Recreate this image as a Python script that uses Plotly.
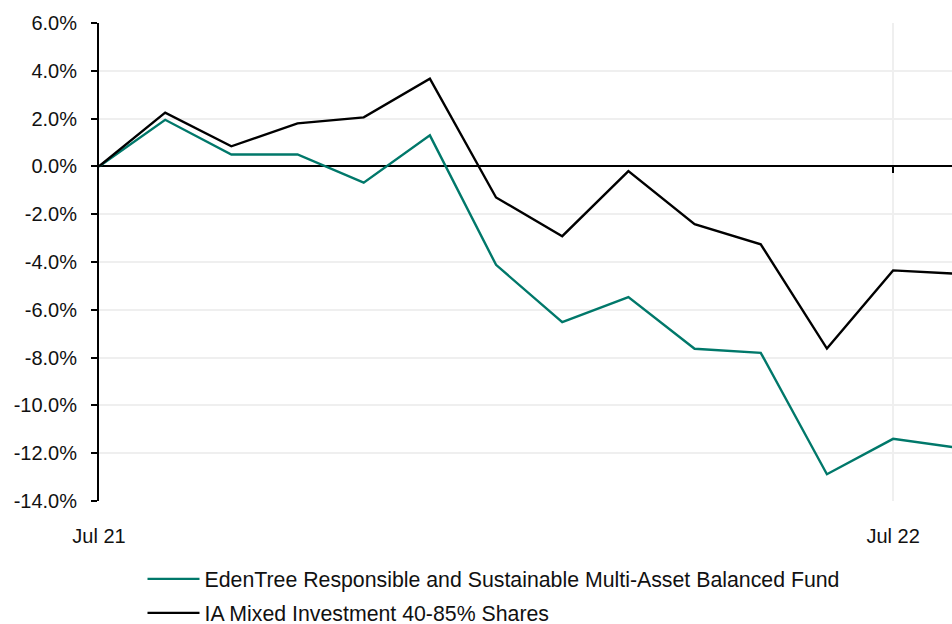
import plotly.graph_objects as go

months = ["Jul 21", "Aug 21", "Sep 21", "Oct 21", "Nov 21", "Dec 21", "Jan 22",
          "Feb 22", "Mar 22", "Apr 22", "May 22", "Jun 22", "Jul 22", "Aug 22"]
fund = [0.0, 1.95, 0.5, 0.5, -0.68, 1.3, -4.12, -6.52, -5.47, -7.63, -7.8, -12.88, -11.4, -11.78]
sector = [0.0, 2.25, 0.84, 1.8, 2.05, 3.67, -1.3, -2.92, -0.2, -2.42, -3.26, -7.62, -4.35, -4.5]
fund_name = "EdenTree Responsible and Sustainable Multi-Asset Balanced Fund"
sector_name = "IA Mixed Investment 40-85% Shares"
tick_idx = [0, 12]
tick_text = ["Jul 21", "Jul 22"]
y_ticks = [-14, -12, -10, -8, -6, -4, -2, 0, 2, 4, 6]

x = list(range(len(months)))
font = "Liberation Sans, Arial, sans-serif"
x_range = [0, 12.89]

fig = go.Figure()
fig.add_trace(go.Scatter(x=x, y=fund, mode="lines", name=fund_name,
                         line=dict(color="#00786A", width=2.4), legend="legend"))
fig.add_trace(go.Scatter(x=x, y=sector, mode="lines", name=sector_name,
                         line=dict(color="#000000", width=2.4), legend="legend2"))
# helper trace so the zero-line tick axis is drawn
fig.add_trace(go.Scatter(x=[tick_idx[1]], y=[None], xaxis="x2", mode="lines",
                         showlegend=False, hoverinfo="skip"))

plot_left, plot_top, plot_bottom = 99, 23, 501
W, H = 952, 624

leg_common = dict(font=dict(family=font, size=21.3, color="#111111"),
                  bgcolor="rgba(0,0,0,0)", xanchor="left", yanchor="middle",
                  xref="container", yref="container",
                  x=142.5 / W, itemwidth=52)

fig.update_layout(
    width=W, height=H,
    margin=dict(l=plot_left, r=0, t=plot_top, b=H - plot_bottom, autoexpand=False),
    paper_bgcolor="white", plot_bgcolor="white",
    font=dict(family=font, size=20, color="#111111"),
    showlegend=True,
    legend=dict(**leg_common, y=1 - 579 / H),
    legend2=dict(**leg_common, y=1 - 613 / H),
    xaxis=dict(range=x_range, tickvals=tick_idx, ticktext=tick_text,
               showgrid=True, gridcolor="#efefef", gridwidth=2,
               zeroline=False, showline=False, ticks="",
               ticklabelstandoff=21, fixedrange=True, automargin=False),
    xaxis2=dict(range=x_range, overlaying="x", anchor="free",
                position=(0 - y_ticks[0]) / (y_ticks[-1] - y_ticks[0]),
                side="bottom", tickvals=[tick_idx[1]], ticks="outside", ticklen=6,
                tickwidth=2, tickcolor="black", showticklabels=False,
                showgrid=False, zeroline=False, showline=False,
                automargin=False, fixedrange=True),
    yaxis=dict(range=[y_ticks[0], y_ticks[-1]], tickvals=y_ticks,
               ticktext=[f"{v:.1f}%" for v in y_ticks],
               showgrid=True, gridcolor="#efefef", gridwidth=2,
               zeroline=True, zerolinecolor="black", zerolinewidth=2,
               showline=True, linecolor="black", linewidth=2,
               ticks="outside", ticklen=6, tickwidth=2, tickcolor="black",
               ticklabelstandoff=10, fixedrange=True, automargin=False),
)

fig.write_html("out.html", config={"displayModeBar": False},
               post_script="document.body.style.margin='0';"
                           "document.documentElement.style.overflow='hidden';")
